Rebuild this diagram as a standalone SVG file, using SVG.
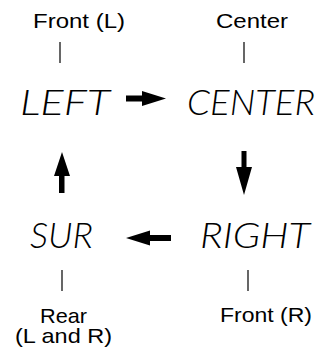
<svg xmlns="http://www.w3.org/2000/svg" width="329" height="350" viewBox="0 0 329 350">
<style>
.lbl{font-family:"Liberation Sans",Arial,sans-serif;font-size:21px;fill:#000}
.seg{font-family:Lato,"DejaVu Sans",sans-serif;font-weight:300;font-style:italic;font-size:36px;fill:#000}
.tick{stroke:#000;stroke-width:1.2}
.arr{fill:#000}
</style>
<rect width="329" height="350" fill="#fff"/>
<g id="left">
<text class="lbl" x="33" y="28" textLength="92" lengthAdjust="spacingAndGlyphs">Front (L)</text>
<line class="tick" x1="60" y1="42" x2="60" y2="63"/>
<text class="seg" x="20" y="115" textLength="90" lengthAdjust="spacingAndGlyphs">LEFT</text>
</g>
<g id="center">
<text class="lbl" x="216" y="28" textLength="72" lengthAdjust="spacingAndGlyphs">Center</text>
<line class="tick" x1="244" y1="42" x2="244" y2="63"/>
<text class="seg" x="187" y="115" textLength="128" lengthAdjust="spacingAndGlyphs">CENTER</text>
</g>
<g id="right">
<text class="seg" x="200" y="248" textLength="110" lengthAdjust="spacingAndGlyphs">RIGHT</text>
<line class="tick" x1="248" y1="270" x2="248" y2="291"/>
<text class="lbl" x="220" y="322" textLength="92" lengthAdjust="spacingAndGlyphs">Front (R)</text>
</g>
<g id="sur">
<text class="seg" x="30" y="248" textLength="63" lengthAdjust="spacingAndGlyphs">SUR</text>
<line class="tick" x1="62" y1="270" x2="62" y2="291"/>
<text class="lbl" x="40" y="322.5" textLength="47" lengthAdjust="spacingAndGlyphs">Rear</text>
<text class="lbl" x="15" y="343" textLength="97" lengthAdjust="spacingAndGlyphs">(L and R)</text>
</g>
<g id="connectors">
<path class="arr" d="M126,95.5 H142 V91 L166,98.5 L142,106 V101.5 H126 Z"/>
<path class="arr" d="M241.5,151 H246.5 V167 H252 L244,195 L236,167 H241.5 Z"/>
<path class="arr" d="M171,235 H150 V230.5 L126,238 L150,245.5 V241 H171 Z"/>
<path class="arr" d="M59,193 H64.5 V176 H70 L62,152 L54,176 H59 Z"/>
</g>
</svg>
